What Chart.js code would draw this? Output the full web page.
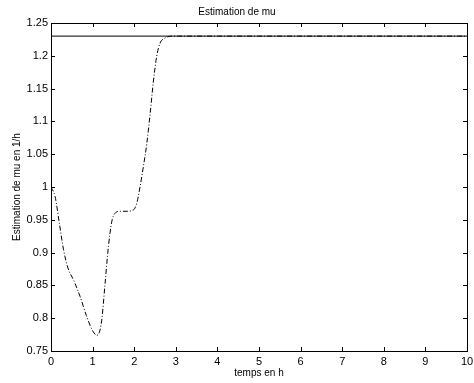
<!DOCTYPE html>
<html>
<head>
<meta charset="utf-8">
<script src="https://cdn.jsdelivr.net/npm/chart.js@4/dist/chart.umd.min.js"></script>
<style>
	html, body { margin: 0; padding: 0; background: #fff; }
	#wrap { width: 474px; height: 383px; }
</style>
</head>
<body>
<div id="wrap"><canvas id="muChart"></canvas></div>
<script>
"use strict";

// Data
var timeH = [0, 0.1, 0.2, 0.3, 0.4, 0.55, 0.7, 0.85, 1.0, 1.1, 1.16, 1.22, 1.3, 1.38, 1.46, 1.54, 1.66, 1.82, 1.98, 2.06, 2.14, 2.22, 2.3, 2.38, 2.46, 2.54, 2.62, 2.74, 2.9, 10];
var muEstimate = [1.0, 0.985, 0.945, 0.905, 0.878, 0.857, 0.833, 0.804, 0.781, 0.774, 0.778, 0.797, 0.853, 0.909, 0.947, 0.960, 0.963, 0.963, 0.965, 0.975, 1.0, 1.031, 1.065, 1.110, 1.160, 1.199, 1.219, 1.227, 1.230, 1.230];
var refTime = [0, 10];
var muReal = [1.23, 1.23];
var xTicks = [0, 1, 2, 3, 4, 5, 6, 7, 8, 9, 10];
var yTicks = [0.75, 0.8, 0.85, 0.9, 0.95, 1, 1.05, 1.1, 1.15, 1.2, 1.25];

function toPoints(xs, ys) {
	return xs.map(function (x, i) {
		return { x: x, y: ys[i] };
	});
}

// Box with inward ticks, MATLAB style
var boxTicks = {
	id: "boxTicks",
	afterDraw: function (chart) {
		var ctx = chart.ctx;
		var a = chart.chartArea;
		var xs = chart.scales.x;
		var ys = chart.scales.y;
		var len = 4;
		ctx.save();
		ctx.strokeStyle = "#000";
		ctx.lineWidth = 1;
		ctx.strokeRect(Math.round(a.left) + 0.5, Math.round(a.top) + 0.5, Math.round(a.right - a.left), Math.round(a.bottom - a.top));
		ctx.beginPath();
		xTicks.forEach(function (t) {
			var px = Math.round(xs.getPixelForValue(t)) + 0.5;
			ctx.moveTo(px, a.bottom);
			ctx.lineTo(px, a.bottom - len);
			ctx.moveTo(px, a.top);
			ctx.lineTo(px, a.top + len);
		});
		yTicks.forEach(function (t) {
			var py = Math.round(ys.getPixelForValue(t)) + 0.5;
			ctx.moveTo(a.left, py);
			ctx.lineTo(a.left + len, py);
			ctx.moveTo(a.right, py);
			ctx.lineTo(a.right - len, py);
		});
		ctx.stroke();
		ctx.restore();
	},
};

function initMuChart() {
	var muChart = document.getElementById("muChart");
	new Chart(muChart, {
		type: "line",
		data: {
			datasets: [
				{
					label: "mu",
					data: toPoints(refTime, muReal),
					borderColor: "#000",
					borderWidth: 1,
					pointRadius: 0,
				},
				{
					label: "mu estime",
					data: toPoints(timeH, muEstimate),
					borderColor: "#000",
					borderWidth: 1,
					borderDash: [5, 2, 1, 2],
					pointRadius: 0,
					cubicInterpolationMode: "monotone",
				},
			],
		},
		options: {
			responsive: true,
			maintainAspectRatio: false,
			animation: false,
			layout: {
				padding: { left: 0, right: 0, top: 0, bottom: 0 },
			},
			scales: {
				x: {
					type: "linear",
					min: 0,
					max: 10,
					grid: { display: false, drawTicks: false, tickLength: 0 },
					border: { display: false },
					afterBuildTicks: function (scale) {
						scale.ticks = xTicks.map(function (v) { return { value: v }; });
					},
					afterFit: function (scale) {
						scale.height = 32;
						scale.paddingLeft = 0;
						scale.paddingRight = 7;
					},
					ticks: {
						color: "#000",
						padding: 4,
						maxRotation: 0,
						font: { family: "Liberation Sans, Arial, sans-serif", size: 11 },
					},
					title: {
						display: true,
						text: "temps en h",
						color: "#000",
						padding: { top: 0, bottom: 4 },
						font: { family: "Liberation Sans, Arial, sans-serif", size: 10 },
					},
				},
				y: {
					min: 0.75,
					max: 1.25,
					grid: { display: false, drawTicks: false, tickLength: 0 },
					border: { display: false },
					afterBuildTicks: function (scale) {
						scale.ticks = yTicks.map(function (v) { return { value: v }; });
					},
					afterFit: function (scale) {
						scale.width = 51;
						scale.paddingTop = 0;
						scale.paddingBottom = 0;
					},
					ticks: {
						color: "#000",
						padding: 3,
						font: { family: "Liberation Sans, Arial, sans-serif", size: 11 },
						callback: function (v) {
							return String(+v.toFixed(2));
						},
					},
					title: {
						display: true,
						text: "Estimation de mu en 1/h",
						color: "#000",
						padding: { top: 11, bottom: 0 },
						font: { family: "Liberation Sans, Arial, sans-serif", size: 10 },
					},
				},
			},
			plugins: {
				legend: { display: false },
				tooltip: { enabled: false },
				title: {
					display: true,
					text: "Estimation de mu",
					color: "#000",
					padding: { top: 6, bottom: 5 },
					font: { family: "Liberation Sans, Arial, sans-serif", size: 10, weight: "normal" },
				},
			},
		},
		plugins: [boxTicks],
	});
}

(function () {
	initMuChart();
})();
</script>
</body>
</html>
